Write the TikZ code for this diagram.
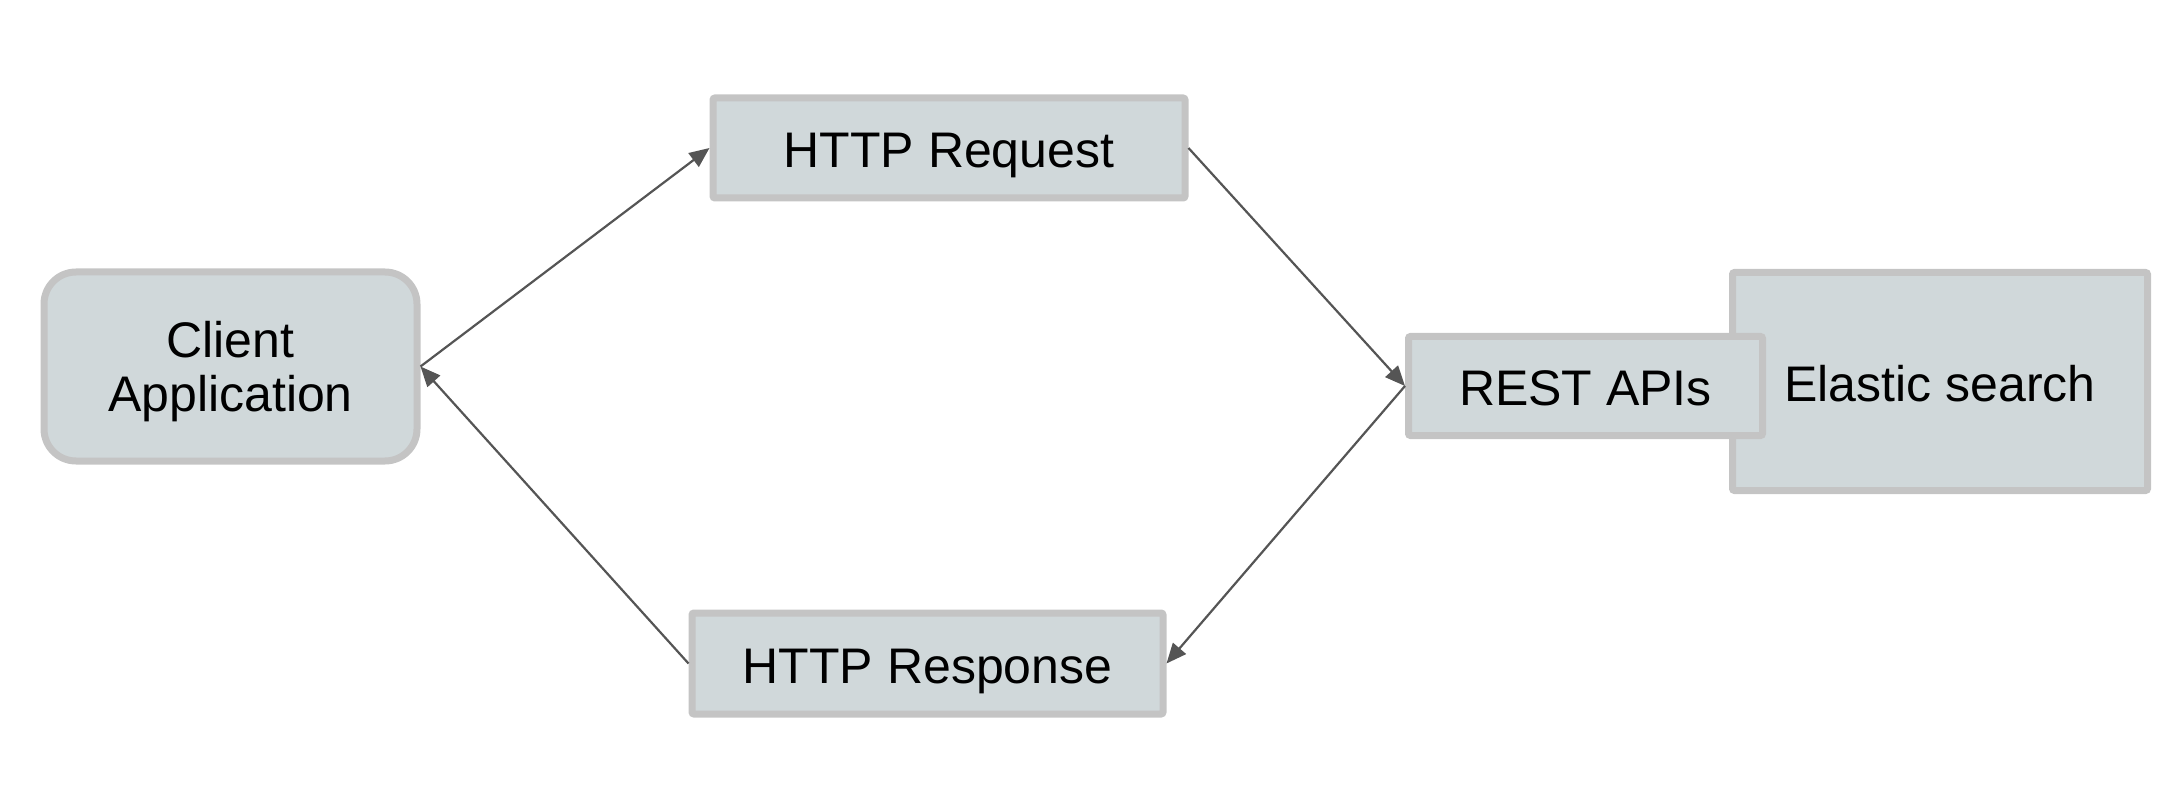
\documentclass[tikz,border=0pt]{standalone}
\usepackage{fontspec}
\setmainfont{Liberation Sans}
\usetikzlibrary{arrows.meta}
\definecolor{boxfill}{HTML}{D0D8DA}
\definecolor{boxline}{HTML}{C4C4C4}
\definecolor{arrowcol}{HTML}{555555}
\begin{document}
\begin{tikzpicture}[x=0.5pt,y=-0.5pt,
  box/.style={draw=boxline,fill=boxfill,line width=3.5pt,inner sep=0pt,
    rounded corners=1pt,align=center,font=\fontsize{25}{27}\selectfont},
  oneline/.style={text height=20pt,text depth=0pt},
  conn/.style={draw=arrowcol,line width=1.1pt,-{Triangle[length=10pt,width=8.5pt]}}]
\useasboundingbox (0,0) rectangle (2180,786);
\node[box,rounded corners=16pt,minimum width=186.5pt,minimum height=94.5pt,text depth=0pt] (client) at (230.5,366.5) {Client\\Application};
\node[box,oneline,minimum width=236pt,minimum height=50pt] (req) at (949,148) {HTTP Request};
\node[box,oneline,minimum width=235.5pt,minimum height=50.5pt] (resp) at (927.5,663.5) {HTTP Response};
\node[box,oneline,minimum width=207.5pt,minimum height=109pt] (es) at (1940,381.5) {Elastic search};
\node[box,oneline,minimum width=177pt,minimum height=49.5pt] (rest) at (1585.5,386) {REST APIs};
\draw[conn] (client.east) -- (req.west);
\draw[conn] (req.east) -- (rest.west);
\draw[conn] (rest.west) -- (resp.east);
\draw[conn] (resp.west) -- (client.east);
\end{tikzpicture}
\end{document}
